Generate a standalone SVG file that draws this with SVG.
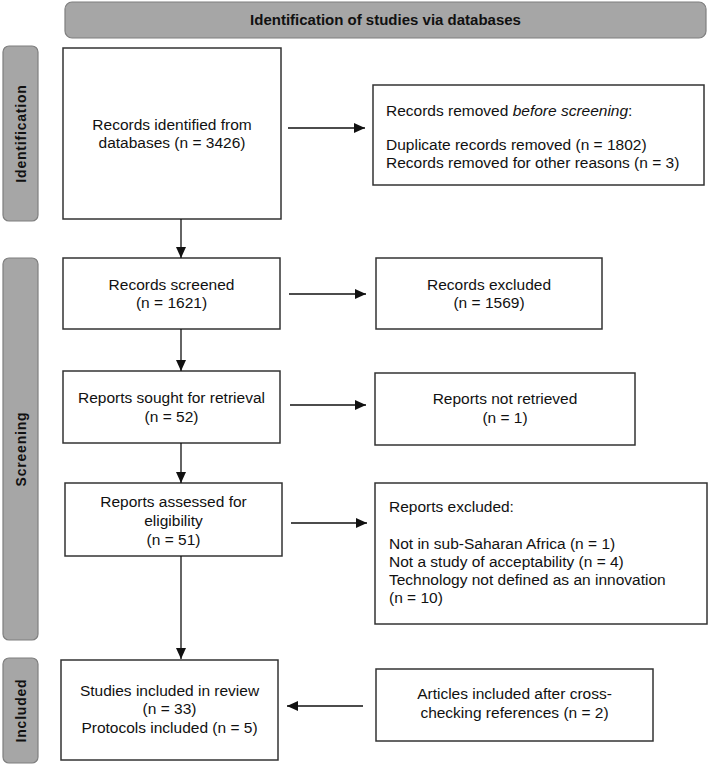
<svg xmlns="http://www.w3.org/2000/svg" width="708" height="765" viewBox="0 0 708 765">
<style>
.box{fill:#fff;stroke:#333;stroke-width:1.5}
.band{fill:#a6a6a6;stroke:#7f7f7f;stroke-width:1.2}
.t{font-family:"Liberation Sans",Arial,sans-serif;font-size:15.5px;fill:#111}
.c{text-anchor:middle}
.b{font-family:"Liberation Sans",Arial,sans-serif;font-weight:bold;fill:#111}
.side{font-size:14px;letter-spacing:0.8px;text-anchor:middle}
.ln{stroke:#111;stroke-width:1.3;fill:none;marker-end:url(#ah)}
</style>
<defs>
<marker id="ah" markerUnits="userSpaceOnUse" markerWidth="12" markerHeight="10" refX="11" refY="5" orient="auto">
<path d="M0,0 L11,5 L0,10 Z" fill="#111"/>
</marker>
</defs>
<rect width="708" height="765" fill="#fff"/>
<g id="banner">
<rect class="band" x="65" y="2" width="641" height="36" rx="7"/>
<text class="b c" x="385.5" y="25" font-size="15">Identification of studies via databases</text>
</g>
<g id="side-identification">
<rect class="band" x="3" y="46" width="35" height="175" rx="6"/>
<text class="b side" transform="translate(25.5,133.5) rotate(-90)">Identification</text>
</g>
<g id="side-screening">
<rect class="band" x="3" y="258" width="35" height="382" rx="6"/>
<text class="b side" transform="translate(25.5,449) rotate(-90)">Screening</text>
</g>
<g id="side-included">
<rect class="band" x="3" y="658" width="35" height="105" rx="6"/>
<text class="b side" transform="translate(25.5,710.5) rotate(-90)">Included</text>
</g>
<g id="records-identified">
<rect class="box" x="63" y="48" width="218" height="171"/>
<text class="t c" x="172" y="130">Records identified from</text>
<text class="t c" x="172" y="148">databases (n = 3426)</text>
</g>
<g id="records-removed">
<rect class="box" x="373" y="85" width="331" height="100"/>
<text class="t" x="386" y="116">Records removed <tspan font-style="italic">before screening</tspan>:</text>
<text class="t" x="386" y="150">Duplicate records removed (n = 1802)</text>
<text class="t" x="386" y="168">Records removed for other reasons (n = 3)</text>
</g>
<g id="records-screened">
<rect class="box" x="63" y="258" width="217" height="71"/>
<text class="t c" x="171.5" y="290">Records screened</text>
<text class="t c" x="171.5" y="308">(n = 1621)</text>
</g>
<g id="records-excluded">
<rect class="box" x="376" y="258" width="226" height="71"/>
<text class="t c" x="489" y="290">Records excluded</text>
<text class="t c" x="489" y="308">(n = 1569)</text>
</g>
<g id="reports-sought">
<rect class="box" x="63" y="371" width="217" height="72"/>
<text class="t c" x="171.5" y="403">Reports sought for retrieval</text>
<text class="t c" x="171.5" y="422">(n = 52)</text>
</g>
<g id="reports-not-retrieved">
<rect class="box" x="375" y="373" width="260" height="72"/>
<text class="t c" x="505" y="404">Reports not retrieved</text>
<text class="t c" x="505" y="423">(n = 1)</text>
</g>
<g id="reports-assessed">
<rect class="box" x="65" y="483" width="217" height="73"/>
<text class="t c" x="173.5" y="507">Reports assessed for</text>
<text class="t c" x="173.5" y="526">eligibility</text>
<text class="t c" x="173.5" y="545">(n = 51)</text>
</g>
<g id="reports-excluded">
<rect class="box" x="375" y="483" width="332" height="141"/>
<text class="t" x="389" y="512">Reports excluded:</text>
<text class="t" x="389" y="549">Not in sub-Saharan Africa (n = 1)</text>
<text class="t" x="389" y="567">Not a study of acceptability (n = 4)</text>
<text class="t" x="389" y="585">Technology not defined as an innovation</text>
<text class="t" x="389" y="603">(n = 10)</text>
</g>
<g id="studies-included">
<rect class="box" x="61" y="660" width="217" height="100"/>
<text class="t c" x="169.5" y="696">Studies included in review</text>
<text class="t c" x="169.5" y="714">(n = 33)</text>
<text class="t c" x="169.5" y="733">Protocols included (n = 5)</text>
</g>
<g id="articles-included">
<rect class="box" x="376" y="669" width="277" height="72"/>
<text class="t c" x="514.5" y="699">Articles included after cross-</text>
<text class="t c" x="514.5" y="718">checking references (n = 2)</text>
</g>
<g id="connectors">
<line class="ln" x1="288" y1="128" x2="365" y2="128"/>
<line class="ln" x1="181" y1="219" x2="181" y2="258"/>
<line class="ln" x1="289" y1="294" x2="366" y2="294"/>
<line class="ln" x1="181" y1="329" x2="181" y2="371"/>
<line class="ln" x1="290" y1="405" x2="366" y2="405"/>
<line class="ln" x1="181" y1="443" x2="181" y2="483"/>
<line class="ln" x1="291" y1="523" x2="367" y2="523"/>
<line class="ln" x1="181" y1="556" x2="181" y2="659"/>
<line class="ln" x1="363" y1="706" x2="287" y2="706"/>
</g>
</svg>
